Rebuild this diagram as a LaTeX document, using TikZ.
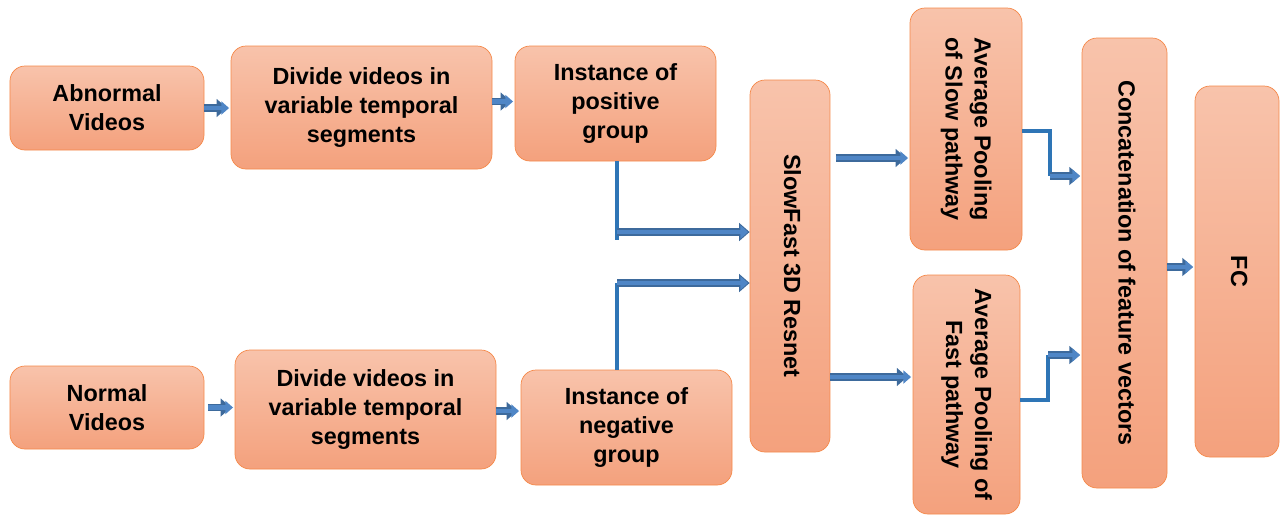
\documentclass[tikz,border=0pt]{standalone}
\usepackage{fontspec}
\setmainfont{Liberation Sans}
\usepackage{tikz}
\usetikzlibrary{arrows.meta}
\definecolor{boxtop}{HTML}{F8C3AB}
\definecolor{boxbot}{HTML}{F4A17D}
\definecolor{boxline}{HTML}{F5894A}
\definecolor{arrblue}{HTML}{4F86C6}
\definecolor{arredge}{HTML}{3D6A9C}
\definecolor{lineblue}{HTML}{2E75B6}
\tikzstyle{box}=[draw=boxline,thin,rounded corners=0.3cm,top color=boxtop,bottom color=boxbot,align=center,inner sep=2pt,font=\bfseries\fontsize{13.3}{16.5}\selectfont]
\tikzstyle{blk}=[draw=arredge,line width=4.4pt,-{Triangle[length=6pt,width=10pt]},
  postaction={draw=arrblue,line width=2.8pt,-{Triangle[length=4.4pt,width=7.4pt]},shorten >=+0.9pt}]
\tikzstyle{conn}=[draw=lineblue,line width=1.8pt]
\newcommand{\vtext}[1]{\rotatebox{-90}{\begin{tabular}{@{}c@{}}#1\end{tabular}}}

\begin{document}
\begin{tikzpicture}
  \useasboundingbox (0,0) rectangle (25.6,-10.32);
  % input rows
  \node[box,minimum width=3.88cm,minimum height=1.68cm] (abn) at (2.14,-2.16) {Abnormal\\Videos};
  \node[box,minimum width=5.22cm,minimum height=2.46cm] (divA) at (7.23,-2.15) {Divide videos in\\variable temporal\\segments};
  \node[box,minimum width=4.02cm,minimum height=2.30cm] (pos) at (12.31,-2.07) {Instance of\\positive\\group};
  \node[box,minimum width=3.88cm,minimum height=1.66cm] (nor) at (2.14,-8.15) {Normal\\Videos};
  \node[box,minimum width=5.22cm,minimum height=2.38cm] (divB) at (7.31,-8.19) {Divide videos in\\variable temporal\\segments};
  \node[box,minimum width=4.22cm,minimum height=2.30cm] (neg) at (12.53,-8.55) {Instance of\\negative\\group};
  % network and heads
  \node[box,minimum width=1.60cm,minimum height=7.44cm] (sf) at (15.80,-5.32) {\vtext{SlowFast 3D Resnet}};
  \node[box,minimum width=2.24cm,minimum height=4.84cm] (slow) at (19.32,-2.58) {\vtext{Average Pooling\\of Slow pathway}};
  \node[box,minimum width=2.14cm,minimum height=4.78cm] (fast) at (19.33,-7.89) {\vtext{Average Pooling of\\Fast pathway}};
  \node[box,minimum width=1.70cm,minimum height=9.00cm] (cat) at (22.49,-5.26) {\vtext{Concatenation of feature vectors}};
  \node[box,minimum width=1.68cm,minimum height=7.42cm] (fc) at (24.74,-5.43) {\vtext{FC}};

  \coordinate (pj) at (12.34,-4.80);
  \coordinate (pa) at (12.34,-4.64);
  \coordinate (na) at (12.34,-5.66);
  \coordinate (s1) at (21.00,-2.62);
  \coordinate (s2) at (21.00,-3.52);
  \coordinate (f1) at (20.96,-8.00);
  \coordinate (f2) at (20.96,-7.10);

  \draw[blk,shorten >=2pt] (abn.east) -- (abn.east -| divA.west);
  \draw[blk,shorten >=2pt] ([yshift=0.12cm]divA.east) -- ([yshift=0.12cm]divA.east -| pos.west);
  \draw[blk,shorten >=2pt,shorten <=2pt] (nor.east) -- (nor.east -| divB.west);
  \draw[blk,shorten >=2pt] ([yshift=-0.03cm]divB.east) -- ([yshift=-0.03cm]divB.east -| neg.west);

  \draw[conn] (pj |- pos.south) -- (pj);
  \draw[blk] (pa) -- (pa -| sf.west);
  \draw[conn] (na |- neg.north) -- (na);
  \draw[blk] (na) -- (na -| sf.west);

  \draw[blk,shorten <=3pt,shorten >=2pt] (sf.east |- 0,-3.16) -- (slow.west |- 0,-3.16);
  \draw[blk,shorten >=3pt] (sf.east |- 0,-7.54) -- (fast.west |- 0,-7.54);

  \draw[conn] (s1 -| slow.east) -- (s1) -- (s2);
  \draw[blk,shorten >=1pt] (s2) -- (s2 -| cat.west);
  \draw[conn] (f1 -| fast.east) -- (f1) -- (f2);
  \draw[blk,shorten >=1pt] (f2) -- (f2 -| cat.west);

  \draw[blk,shorten >=1pt] (cat.east |- 0,-5.34) -- (fc.west |- 0,-5.34);
\end{tikzpicture}
\end{document}
